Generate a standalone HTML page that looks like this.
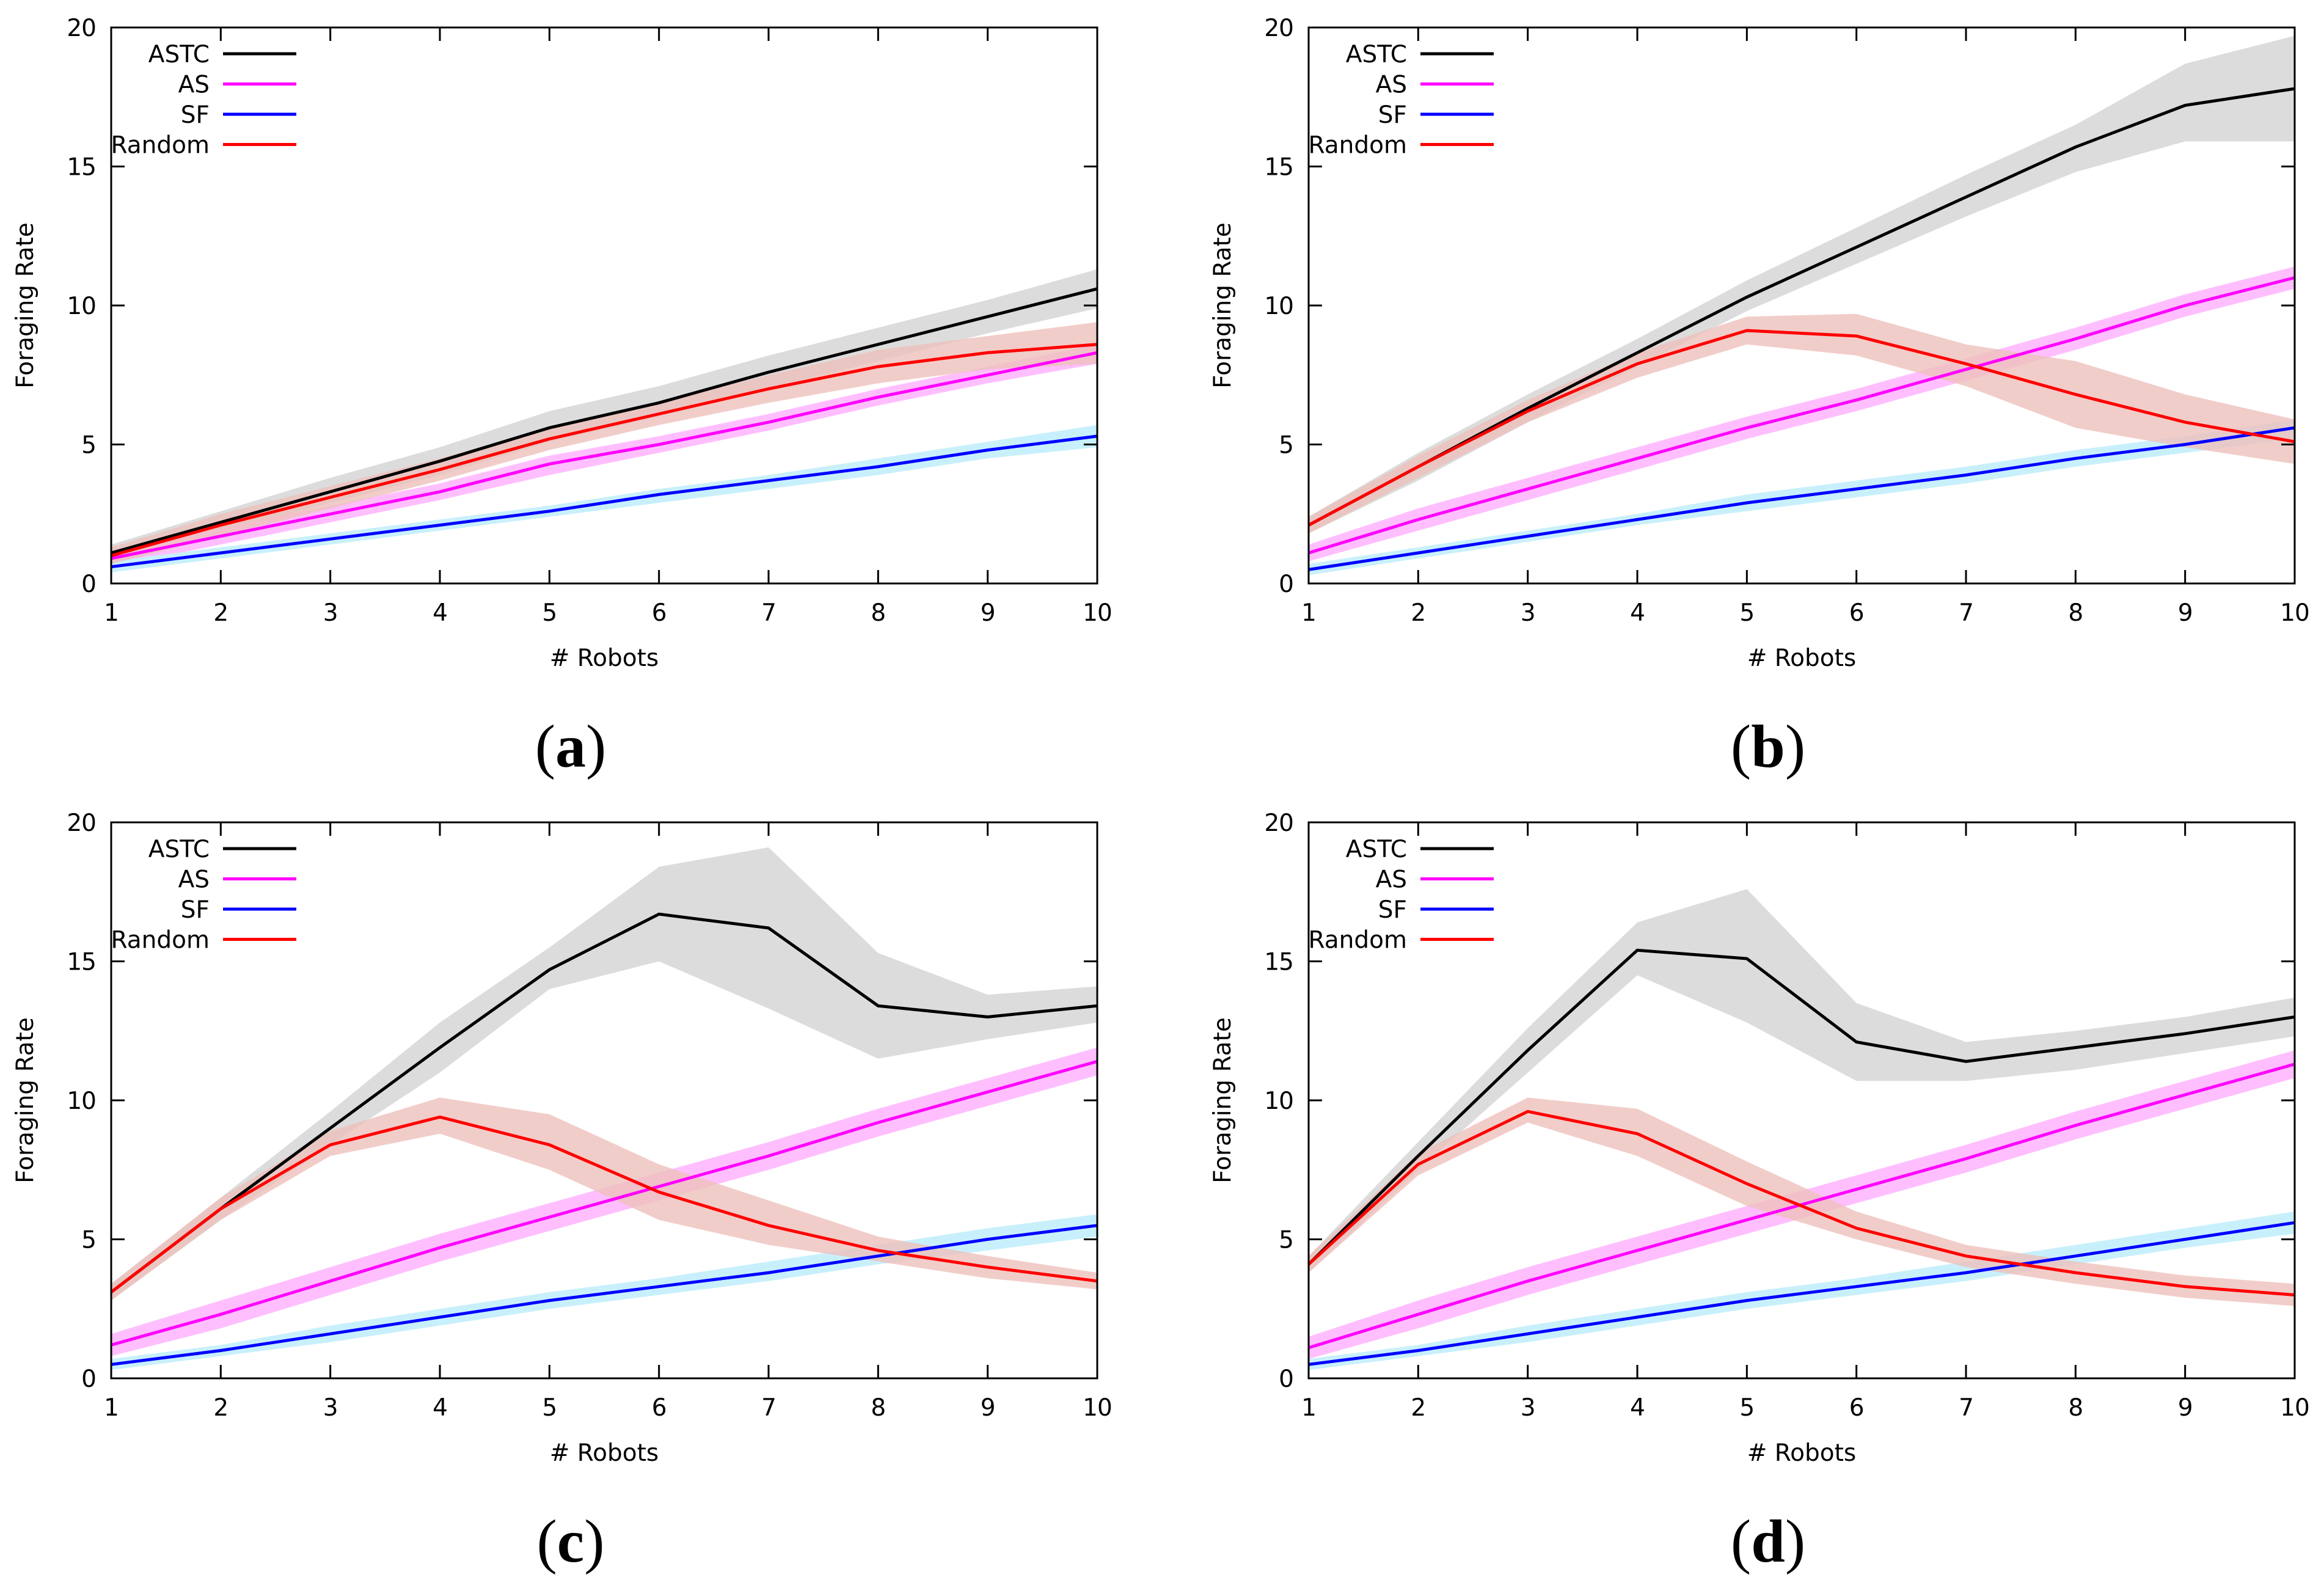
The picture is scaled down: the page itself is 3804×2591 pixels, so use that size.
<!DOCTYPE html>
<html><head><meta charset="utf-8">
<style>
html,body{margin:0;padding:0;background:#fff;}
svg{display:block;}
text{font-family:"DejaVu Sans","Liberation Sans",sans-serif;fill:#000;}
.cap{font-family:"Liberation Serif",serif;}
</style></head>
<body>
<svg id="fig" width="3804" height="2591" viewBox="0 0 3804 2591" xmlns="http://www.w3.org/2000/svg"></svg>
<script>
const xCats=[1,2,3,4,5,6,7,8,9,10];
const yTicks=[0,5,10,15,20];
const seriesNames=["ASTC","AS","SF","Random"];
const panelLabels=["a","b","c","d"];
// panel a
const a_astc=[1.1,2.2,3.3,4.4,5.6,6.5,7.6,8.6,9.6,10.6];
const a_astc_lo=[0.8,1.8,2.9,3.9,5.1,6.0,7.0,8.0,9.0,9.9];
const a_astc_hi=[1.4,2.6,3.8,4.9,6.2,7.1,8.2,9.2,10.2,11.3];
const a_as=[0.9,1.7,2.5,3.3,4.3,5.0,5.8,6.7,7.5,8.3];
const a_as_lo=[0.6,1.4,2.2,3.0,3.9,4.7,5.5,6.4,7.2,7.9];
const a_as_hi=[1.2,2.0,2.8,3.6,4.6,5.3,6.1,7.0,7.8,8.6];
const a_sf=[0.6,1.1,1.6,2.1,2.6,3.2,3.7,4.2,4.8,5.3];
const a_sf_lo=[0.4,0.9,1.4,1.9,2.4,2.9,3.4,3.9,4.5,4.9];
const a_sf_hi=[0.8,1.3,1.8,2.3,2.8,3.4,3.9,4.5,5.1,5.7];
const a_rnd=[1.0,2.1,3.1,4.1,5.2,6.1,7.0,7.8,8.3,8.6];
const a_rnd_lo=[0.7,1.7,2.7,3.7,4.8,5.7,6.5,7.2,7.7,7.9];
const a_rnd_hi=[1.3,2.5,3.5,4.5,5.6,6.5,7.5,8.4,8.9,9.4];
// panel b
const b_astc=[2.1,4.2,6.3,8.3,10.3,12.1,13.9,15.7,17.2,17.8];
const b_astc_lo=[1.8,3.7,5.8,7.8,9.8,11.5,13.2,14.8,15.9,15.9];
const b_astc_hi=[2.4,4.7,6.8,8.8,10.9,12.8,14.7,16.5,18.7,19.7];
const b_as=[1.1,2.3,3.4,4.5,5.6,6.6,7.7,8.8,10.0,11.0];
const b_as_lo=[0.8,1.9,3.0,4.1,5.2,6.2,7.3,8.4,9.6,10.6];
const b_as_hi=[1.4,2.7,3.8,4.9,6.0,7.0,8.1,9.2,10.4,11.4];
const b_sf=[0.5,1.1,1.7,2.3,2.9,3.4,3.9,4.5,5.0,5.6];
const b_sf_lo=[0.3,0.9,1.5,2.1,2.6,3.1,3.6,4.2,4.7,5.2];
const b_sf_hi=[0.7,1.3,1.9,2.5,3.2,3.7,4.2,4.8,5.3,5.9];
const b_rnd=[2.1,4.2,6.2,7.9,9.1,8.9,7.9,6.8,5.8,5.1];
const b_rnd_lo=[1.8,3.8,5.8,7.4,8.6,8.2,7.1,5.6,4.9,4.3];
const b_rnd_hi=[2.4,4.6,6.6,8.3,9.6,9.7,8.6,8.0,6.8,5.9];
// panel c
const c_astc=[3.1,6.1,9.0,11.9,14.7,16.7,16.2,13.4,13.0,13.4];
const c_astc_lo=[2.8,5.7,8.4,11.0,14.0,15.0,13.3,11.5,12.2,12.8];
const c_astc_hi=[3.4,6.5,9.6,12.8,15.5,18.4,19.1,15.3,13.8,14.1];
const c_as=[1.2,2.3,3.5,4.7,5.8,6.9,8.0,9.2,10.3,11.4];
const c_as_lo=[0.8,1.8,3.0,4.2,5.3,6.4,7.5,8.7,9.8,10.9];
const c_as_hi=[1.6,2.8,4.0,5.2,6.3,7.4,8.5,9.7,10.8,11.9];
const c_sf=[0.5,1.0,1.6,2.2,2.8,3.3,3.8,4.4,5.0,5.5];
const c_sf_lo=[0.3,0.8,1.3,1.9,2.5,3.0,3.5,4.1,4.6,5.1];
const c_sf_hi=[0.7,1.2,1.9,2.5,3.1,3.6,4.2,4.8,5.4,5.9];
const c_rnd=[3.1,6.1,8.4,9.4,8.4,6.7,5.5,4.6,4.0,3.5];
const c_rnd_lo=[2.8,5.7,8.0,8.8,7.5,5.7,4.8,4.2,3.6,3.2];
const c_rnd_hi=[3.4,6.5,8.9,10.1,9.5,7.7,6.4,5.1,4.4,3.8];
// panel d
const d_astc=[4.1,8.0,11.8,15.4,15.1,12.1,11.4,11.9,12.4,13.0];
const d_astc_lo=[3.8,7.5,11.0,14.5,12.8,10.7,10.7,11.1,11.7,12.3];
const d_astc_hi=[4.4,8.5,12.6,16.4,17.6,13.5,12.1,12.5,13.0,13.7];
const d_as=[1.1,2.3,3.5,4.6,5.7,6.8,7.9,9.1,10.2,11.3];
const d_as_lo=[0.7,1.8,3.0,4.1,5.2,6.3,7.4,8.6,9.7,10.8];
const d_as_hi=[1.5,2.8,4.0,5.1,6.2,7.3,8.4,9.6,10.7,11.8];
const d_sf=[0.5,1.0,1.6,2.2,2.8,3.3,3.8,4.4,5.0,5.6];
const d_sf_lo=[0.3,0.8,1.3,1.9,2.5,3.0,3.5,4.1,4.7,5.2];
const d_sf_hi=[0.7,1.2,1.9,2.5,3.1,3.6,4.2,4.8,5.4,6.0];
const d_rnd=[4.1,7.7,9.6,8.8,7.0,5.4,4.4,3.8,3.3,3.0];
const d_rnd_lo=[3.8,7.3,9.2,8.0,6.2,5.0,4.0,3.4,2.9,2.6];
const d_rnd_hi=[4.4,8.1,10.1,9.7,7.8,6.0,4.8,4.2,3.7,3.4];

const panels=[
 {left:182,top:45,series:[[a_astc,a_astc_lo,a_astc_hi],[a_as,a_as_lo,a_as_hi],[a_sf,a_sf_lo,a_sf_hi],[a_rnd,a_rnd_lo,a_rnd_hi]]},
 {left:2142,top:45,series:[[b_astc,b_astc_lo,b_astc_hi],[b_as,b_as_lo,b_as_hi],[b_sf,b_sf_lo,b_sf_hi],[b_rnd,b_rnd_lo,b_rnd_hi]]},
 {left:182,top:1346,series:[[c_astc,c_astc_lo,c_astc_hi],[c_as,c_as_lo,c_as_hi],[c_sf,c_sf_lo,c_sf_hi],[c_rnd,c_rnd_lo,c_rnd_hi]]},
 {left:2142,top:1346,series:[[d_astc,d_astc_lo,d_astc_hi],[d_as,d_as_lo,d_as_hi],[d_sf,d_sf_lo,d_sf_hi],[d_rnd,d_rnd_lo,d_rnd_hi]]}
];
const W=1614,H=910;
const lineCol=["#000000","#ff00ff","#0000ff","#ff0000"];
const bandCol=["#dcdcdc","#ffb8ff","#c8f0fc","#eec0bc"];
const bandOp=[1,0.9,1,0.8];
const NS="http://www.w3.org/2000/svg";
const svg=document.getElementById("fig");
function mk(tag,attrs,parent){const e=document.createElementNS(NS,tag);for(const k in attrs)e.setAttribute(k,attrs[k]);(parent||svg).appendChild(e);return e;}
const keys=["astc","as","sf","random"];
panels.forEach((p,pi)=>{
  const xs=v=>p.left+(v-1)/9*W;
  const ys=v=>p.top+H-v/20*H;
  const g=mk("g",{});
  
  
  p.series.forEach((s,si)=>{
    let d="";
    xCats.forEach((c,i)=>{d+=(i?"L":"M")+xs(c).toFixed(1)+","+ys(s[2][i]).toFixed(1);});
    for(let i=xCats.length-1;i>=0;i--)d+="L"+xs(xCats[i]).toFixed(1)+","+ys(s[1][i]).toFixed(1);
    const b=mk("path",{d:d+"Z",fill:bandCol[si],"fill-opacity":bandOp[si]},g);
    
    
  });
  p.series.forEach((s,si)=>{
    const pts=xCats.map((c,i)=>xs(c).toFixed(1)+","+ys(s[0][i]).toFixed(1)).join(" ");
    const l=mk("polyline",{points:pts,fill:"none",stroke:lineCol[si],"stroke-width":5,"stroke-linejoin":"miter"},g);
    
    
  });
  const fr=mk("rect",{x:p.left,y:p.top,width:W,height:H,fill:"none",stroke:"#000","stroke-width":3},g);
  
  
  xCats.forEach(c=>{
    const x=xs(c);
    if(c>1&&c<10){
      mk("line",{x1:x,y1:p.top+H,x2:x,y2:p.top+H-22,stroke:"#000","stroke-width":3},g);
      mk("line",{x1:x,y1:p.top,x2:x,y2:p.top+22,stroke:"#000","stroke-width":3},g);
    }
    const t=mk("text",{x:x,y:p.top+H+61,"font-size":39,"text-anchor":"middle","letter-spacing":"-1"},g);
    t.textContent=c;
    
    
  });
  yTicks.forEach(v=>{
    const y=ys(v);
    if(v>0&&v<20){
      mk("line",{x1:p.left,y1:y,x2:p.left+22,y2:y,stroke:"#000","stroke-width":3},g);
      mk("line",{x1:p.left+W,y1:y,x2:p.left+W-22,y2:y,stroke:"#000","stroke-width":3},g);
    }
    const t=mk("text",{x:p.left-25,y:y+14,"font-size":39,"text-anchor":"end","letter-spacing":"-1"},g);
    t.textContent=v;
    
    
  });
  const xt=mk("text",{x:p.left+W/2,y:p.top+H+135,"font-size":39,"text-anchor":"middle"},g);
  xt.textContent="# Robots";
  
  
  const yx=p.left-128, yy=p.top+H/2;
  const yt=mk("text",{x:yx,y:yy,"font-size":39,"text-anchor":"middle",transform:"rotate(-90 "+yx+" "+yy+")"},g);
  yt.textContent="Foraging Rate";
  
  
  seriesNames.forEach((n,si)=>{
    const cy=p.top+43+si*49.5;
    const lt=mk("text",{x:p.left+161,y:cy+14,"font-size":39,"text-anchor":"end"},g);
    lt.textContent=n;
    
    
    const ll=mk("line",{x1:p.left+183,y1:cy,x2:p.left+303,y2:cy,stroke:lineCol[si],"stroke-width":5},g);
    
    
  });
  const cap=mk("text",{x:p.left+W/2-55,y:p.top+H+300,"font-size":100,"text-anchor":"middle","class":"cap"},g);
  
  
  const t1=mk("tspan",{},cap); t1.textContent="(";
  const t2=mk("tspan",{"font-weight":"bold"},cap); t2.textContent=panelLabels[pi];
  const t3=mk("tspan",{},cap); t3.textContent=")";
});
</script>
</body></html>
